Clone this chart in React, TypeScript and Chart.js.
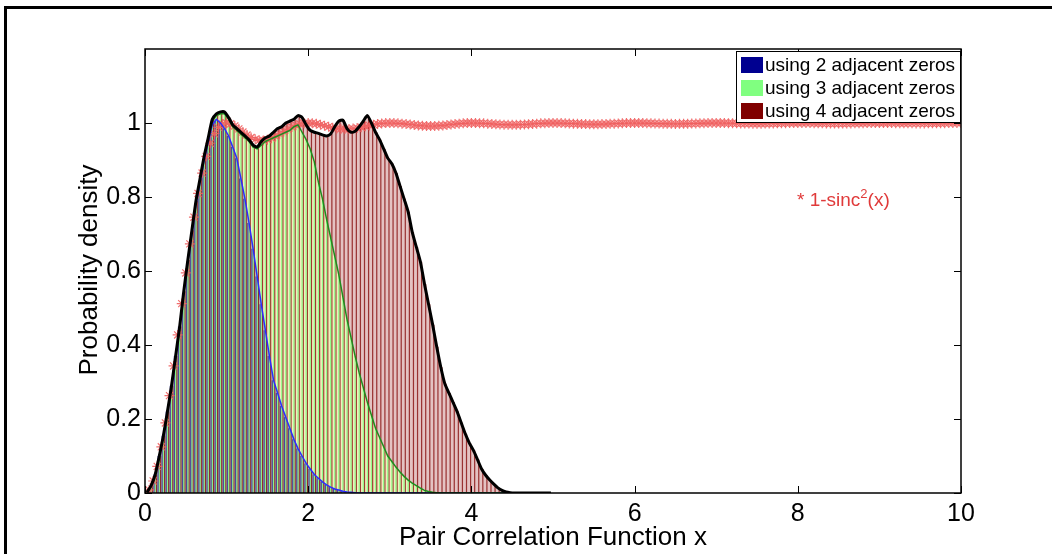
import React, { useEffect, useRef } from "react";
import { Chart, registerables } from "chart.js";

Chart.register(...registerables);

// Histogram bins (bin centres start at BIN_START, one every BIN_WIDTH)
const BIN_START = 0.025;
const BIN_WIDTH = 0.05;

// cumulative heights
const TWO_ZEROS = [
  0.002, 0.02, 0.05, 0.1, 0.155, 0.22, 0.29, 0.37, 0.45, 0.54,
  0.625, 0.7, 0.78, 0.84, 0.9, 0.95, 0.995, 1.01, 1.0, 0.985,
  0.965, 0.935, 0.905, 0.85, 0.795, 0.73, 0.66, 0.585, 0.51, 0.44,
  0.37, 0.305, 0.27, 0.235, 0.205, 0.175, 0.145, 0.12, 0.1, 0.08,
  0.065, 0.05, 0.04, 0.03, 0.022, 0.016, 0.011, 0.008, 0.005, 0.003,
  0.002, 0.001, 0, 0, 0, 0, 0, 0, 0, 0,
  0, 0, 0, 0, 0, 0, 0, 0, 0, 0,
  0, 0, 0, 0, 0, 0, 0, 0, 0, 0,
  0, 0, 0, 0, 0, 0, 0, 0, 0, 0,
  0, 0, 0, 0, 0, 0, 0, 0, 0, 0,
];

const THREE_ZEROS = [
  0.002, 0.02, 0.05, 0.1, 0.155, 0.22, 0.29, 0.37, 0.45, 0.545,
  0.63, 0.71, 0.79, 0.85, 0.91, 0.96, 1.005, 1.02, 1.025, 1.025,
  1.01, 0.99, 0.98, 0.97, 0.96, 0.95, 0.935, 0.93, 0.94, 0.95,
  0.955, 0.96, 0.965, 0.97, 0.975, 0.98, 0.99, 0.995, 0.975, 0.955,
  0.93, 0.895, 0.84, 0.795, 0.74, 0.69, 0.64, 0.59, 0.53, 0.47,
  0.42, 0.37, 0.325, 0.285, 0.245, 0.21, 0.175, 0.15, 0.125, 0.1,
  0.085, 0.07, 0.057, 0.045, 0.035, 0.027, 0.02, 0.013, 0.007, 0.004,
  0.002, 0.001, 0, 0, 0, 0, 0, 0, 0, 0,
  0, 0, 0, 0, 0, 0, 0, 0, 0, 0,
  0, 0, 0, 0, 0, 0, 0, 0, 0, 0,
];

const FOUR_ZEROS = [
  0.002, 0.02, 0.05, 0.1, 0.155, 0.22, 0.29, 0.37, 0.45, 0.545,
  0.63, 0.71, 0.79, 0.85, 0.91, 0.96, 1.01, 1.025, 1.03, 1.03,
  1.015, 0.995, 0.985, 0.975, 0.965, 0.955, 0.94, 0.935, 0.95, 0.96,
  0.965, 0.975, 0.985, 0.99, 1.0, 1.005, 1.01, 1.02, 1.015, 0.995,
  0.98, 0.975, 0.972, 0.968, 0.965, 0.97, 0.99, 1.005, 1.008, 0.985,
  0.975, 0.978, 0.99, 1.005, 1.02, 1.0, 0.975, 0.955, 0.93, 0.905,
  0.89, 0.865, 0.83, 0.795, 0.76, 0.705, 0.665, 0.625, 0.565, 0.51,
  0.455, 0.395, 0.34, 0.295, 0.27, 0.245, 0.22, 0.19, 0.16, 0.135,
  0.115, 0.09, 0.065, 0.048, 0.035, 0.024, 0.014, 0.007, 0.003, 0.001,
  0, 0, 0, 0, 0, 0, 0, 0, 0, 0,
];

// 1 - sinc^2(x) markers, from SINC_START every SINC_STEP
const SINC_START = 0;
const SINC_STEP = 0.05;
const SINC2_CURVE = [
  0, 0.0082, 0.0325, 0.0719, 0.1249, 0.1894, 0.2632, 0.3434, 0.4272, 0.5119,
  0.5947, 0.6733, 0.7454, 0.8096, 0.8647, 0.9099, 0.9453, 0.9711, 0.9881, 0.9973, 1.0,
  0.9978, 0.992, 0.9842, 0.9757, 0.9676, 0.9608, 0.9559, 0.9532, 0.953, 0.955,
  0.9589, 0.9642, 0.9705, 0.9771, 0.9835, 0.9892, 0.9939, 0.9973, 0.9993, 1.0,
  0.9994, 0.9978, 0.9955, 0.9928, 0.99, 0.9875, 0.9854, 0.9841, 0.9835, 0.9838,
  0.9848, 0.9864, 0.9885, 0.9909, 0.9933, 0.9955, 0.9974, 0.9988, 0.9997, 1.0,
  0.9998, 0.9992, 0.9983, 0.9971, 0.9959, 0.9946, 0.9934, 0.9925, 0.9919, 0.9917,
  0.9919, 0.9925, 0.9934, 0.9946, 0.9959, 0.9971, 0.9983, 0.9992, 0.9998, 1.0,
  0.9999, 0.9995, 0.999, 0.9983, 0.9975, 0.9967, 0.996, 0.9955, 0.9951, 0.995,
  0.9951, 0.9955, 0.996, 0.9967, 0.9975, 0.9983, 0.999, 0.9995, 0.9999, 1.0,
  0.9999, 0.9997, 0.9993, 0.9988, 0.9983, 0.9978, 0.9973, 0.997, 0.9967, 0.9966,
  0.9967, 0.997, 0.9973, 0.9978, 0.9983, 0.9988, 0.9993, 0.9997, 0.9999, 1.0,
  0.9999, 0.9998, 0.9995, 0.9992, 0.9988, 0.9984, 0.9981, 0.9978, 0.9977, 0.9976,
  0.9977, 0.9978, 0.9981, 0.9984, 0.9988, 0.9992, 0.9995, 0.9998, 0.9999, 1.0,
  1.0, 0.9998, 0.9996, 0.9994, 0.9991, 0.9988, 0.9986, 0.9984, 0.9982, 0.9982,
  0.9982, 0.9984, 0.9986, 0.9988, 0.9991, 0.9994, 0.9996, 0.9998, 1.0, 1.0,
  1.0, 0.9999, 0.9997, 0.9995, 0.9993, 0.9991, 0.9989, 0.9987, 0.9986, 0.9986,
  0.9986, 0.9987, 0.9989, 0.9991, 0.9993, 0.9995, 0.9997, 0.9999, 1.0, 1.0,
  1.0, 0.9999, 0.9998, 0.9996, 0.9994, 0.9993, 0.9991, 0.999, 0.9989, 0.9989,
  0.9989, 0.999, 0.9991, 0.9993, 0.9994, 0.9996, 0.9998, 0.9999, 1.0, 1.0,
];

const X_TICKS = [0, 2, 4, 6, 8, 10];
const Y_TICKS = [0, 0.2, 0.4, 0.6, 0.8, 1];
const X_MAX = 10;
const Y_MAX = 1.2;
const SERIES_LABELS = ["using 2 adjacent zeros", "using 3 adjacent zeros", "using 4 adjacent zeros"];
const SINC_LABEL = ["* 1-sinc", "2", "(x)"];
const X_TITLE = "Pair Correlation Function x";
const Y_TITLE = "Probability density";

const LEGEND_COLORS = ["#000090", "#80ff80", "#800000"];
const BAR_FILLS = ["rgba(0, 0, 144, 0.6)", "rgba(128, 255, 128, 0.85)", "rgba(128, 0, 0, 0.75)"];
const LINE_COLORS = ["#2b2bff", "#1e8c1e", "#000000"];
// tints showing through between the thin bars
const AREA_TINTS = ["#b9b6ab", "#f2eebe", "#e4c2c2"];
const SINC_COLOR = "rgba(240, 95, 95, 0.9)";
const FONT = "'Liberation Sans', Arial, Helvetica, sans-serif";

const toBins = (vals: number[]) => vals.map((v, i) => ({ x: BIN_START + i * BIN_WIDTH, y: v }));

const decorPlugin = {
  id: "decor",
  afterDraw(chart: any) {
    const ctx: CanvasRenderingContext2D = chart.ctx;
    const { left, right, top, bottom } = chart.chartArea;
    const xs = chart.scales.x;
    const ys = chart.scales.y;
    ctx.save();
    // axes box
    ctx.strokeStyle = "#000";
    ctx.lineWidth = 1.5;
    ctx.strokeRect(left, top, right - left, bottom - top);
    // inward ticks
    ctx.lineWidth = 1;
    ctx.beginPath();
    X_TICKS.forEach((v) => {
      const px = Math.round(xs.getPixelForValue(v)) + 0.5;
      ctx.moveTo(px, bottom);
      ctx.lineTo(px, bottom - 7);
      ctx.moveTo(px, top);
      ctx.lineTo(px, top + 7);
    });
    Y_TICKS.forEach((v) => {
      const py = Math.round(ys.getPixelForValue(v)) + 0.5;
      ctx.moveTo(left, py);
      ctx.lineTo(left + 7, py);
      ctx.moveTo(right, py);
      ctx.lineTo(right - 7, py);
    });
    ctx.stroke();

    // legend
    const lx = 736, ly = 51, lw = 225, lh = 72;
    ctx.fillStyle = "#fff";
    ctx.fillRect(lx, ly, lw, lh);
    ctx.strokeStyle = "#000";
    ctx.lineWidth = 1;
    ctx.strokeRect(lx + 0.5, ly + 0.5, lw - 1, lh - 1);
    ctx.font = `19px ${FONT}`;
    ctx.textBaseline = "middle";
    ctx.textAlign = "left";
    SERIES_LABELS.forEach((lab, i) => {
      const cy = ly + 14 + i * 23;
      ctx.fillStyle = LEGEND_COLORS[i];
      ctx.fillRect(lx + 5, cy - 8, 22, 16);
      ctx.fillStyle = "#000";
      ctx.fillText(lab, lx + 29, cy + 1);
    });

    // sinc annotation
    ctx.fillStyle = "#e03a3a";
    ctx.font = `19px ${FONT}`;
    ctx.textBaseline = "middle";
    let tx = 797;
    const ty = 201;
    ctx.fillText(SINC_LABEL[0], tx, ty);
    tx += ctx.measureText(SINC_LABEL[0]).width;
    ctx.font = `13px ${FONT}`;
    ctx.fillText(SINC_LABEL[1], tx, ty - 7);
    tx += ctx.measureText(SINC_LABEL[1]).width;
    ctx.font = `19px ${FONT}`;
    ctx.fillText(SINC_LABEL[2], tx, ty);

    // axis titles
    ctx.fillStyle = "#000";
    ctx.font = `26px ${FONT}`;
    ctx.textAlign = "center";
    ctx.textBaseline = "middle";
    ctx.fillText(X_TITLE, (left + right) / 2, 538);
    ctx.save();
    ctx.translate(90, 270);
    ctx.rotate(-Math.PI / 2);
    ctx.font = `26px ${FONT}`;
    ctx.fillText(Y_TITLE, 0, 0);
    ctx.restore();

    // figure frame
    ctx.fillStyle = "#000";
    ctx.fillRect(4, 6, 1048, 3);
    ctx.fillRect(4, 6, 3, 548);
    ctx.restore();
  },
};

export default function App() {
  const ref = useRef<HTMLCanvasElement | null>(null);
  useEffect(() => {
    if (!ref.current) return;
    const barBase = {
      type: "bar" as const,
      borderWidth: 0,
      categoryPercentage: 0.9,
      barPercentage: 1,
      order: 10,
    };
    const lineBase = {
      type: "line" as const,
      pointRadius: 0,
      tension: 0,
    };
    const chart = new Chart(ref.current, {
      type: "bar",
      data: {
        datasets: [
          { ...barBase, label: SERIES_LABELS[0], data: toBins(TWO_ZEROS), backgroundColor: BAR_FILLS[0] },
          { ...barBase, label: SERIES_LABELS[1], data: toBins(THREE_ZEROS), backgroundColor: BAR_FILLS[1] },
          { ...barBase, label: SERIES_LABELS[2], data: toBins(FOUR_ZEROS), backgroundColor: BAR_FILLS[2] },
          {
            type: "line" as const,
            label: "1-sinc^2(x)",
            data: SINC2_CURVE.map((v, i) => ({ x: SINC_START + i * SINC_STEP, y: v })),
            showLine: false,
            pointStyle: "star",
            pointRadius: 5,
            pointBorderWidth: 1.2,
            pointBorderColor: SINC_COLOR,
            pointBackgroundColor: SINC_COLOR,
            borderColor: SINC_COLOR,
            order: 5,
          },
          {
            ...lineBase,
            label: "line2",
            data: toBins(TWO_ZEROS),
            borderColor: LINE_COLORS[0],
            borderWidth: 1.5,
            fill: "origin",
            backgroundColor: AREA_TINTS[0],
            order: 3,
          },
          {
            ...lineBase,
            label: "line3",
            data: toBins(THREE_ZEROS),
            borderColor: LINE_COLORS[1],
            borderWidth: 1.5,
            fill: 4,
            backgroundColor: AREA_TINTS[1],
            order: 2,
          },
          {
            ...lineBase,
            label: "line4",
            data: toBins(FOUR_ZEROS),
            borderColor: LINE_COLORS[2],
            borderWidth: 3,
            tension: 0.2,
            fill: 5,
            backgroundColor: AREA_TINTS[2],
            order: 1,
          },
        ] as any,
      },
      options: {
        responsive: false,
        animation: false,
        devicePixelRatio: 1,
        layout: { padding: { top: 49, right: 91, left: 0, bottom: 0 } },
        plugins: {
          legend: { display: false },
          tooltip: { enabled: false },
          filler: { drawTime: "beforeDatasetsDraw" },
        },
        scales: {
          x: {
            type: "linear",
            min: 0,
            max: X_MAX,
            offset: false,
            grid: { display: false, drawTicks: false },
            border: { display: false },
            afterBuildTicks: (s: any) => {
              s.ticks = X_TICKS.map((v) => ({ value: v }));
            },
            afterFit: (s: any) => {
              s.height = 61;
            },
            ticks: {
              padding: 6,
              color: "#000",
              maxRotation: 0,
              font: { family: FONT, size: 25 },
              callback: (v: any) => String(v),
            },
          },
          y: {
            type: "linear",
            min: 0,
            max: Y_MAX,
            grid: { display: false, drawTicks: false },
            border: { display: false },
            afterBuildTicks: (s: any) => {
              s.ticks = Y_TICKS.map((v) => ({ value: v }));
            },
            afterFit: (s: any) => {
              s.width = 145;
            },
            ticks: {
              padding: 4,
              color: "#000",
              font: { family: FONT, size: 25 },
              callback: (v: any) => String(Math.round(v * 10) / 10),
            },
          },
        },
      } as any,
      plugins: [decorPlugin],
    });
    return () => chart.destroy();
  }, []);
  return (
    <div style={{ position: "fixed", left: 0, top: 0, width: 1052, height: 554, background: "#fff" }}>
      <canvas ref={ref} width={1052} height={554} style={{ display: "block" }} />
    </div>
  );
}
